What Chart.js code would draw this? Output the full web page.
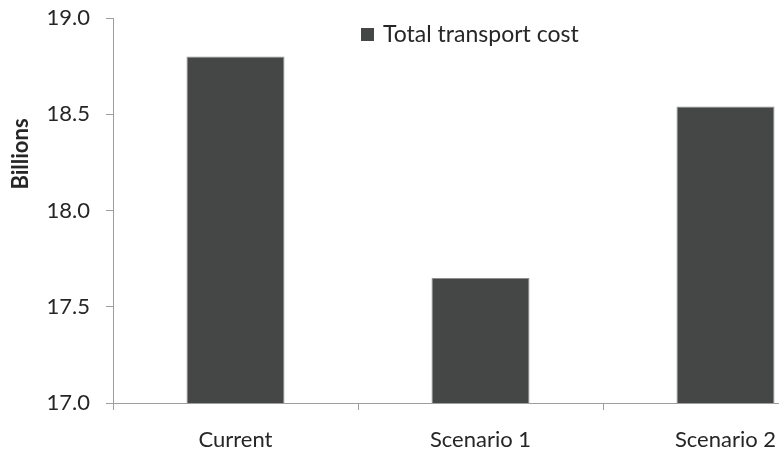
<!DOCTYPE html>
<html>
<head>
<meta charset="utf-8">
<script src="https://cdn.jsdelivr.net/npm/chart.js@4"></script>
<style>
    html, body { margin: 0; padding: 0; background: #ffffff; overflow: hidden; }
    #wrap { width: 779px; height: 457px; overflow: hidden; }
</style>
</head>
<body>
<div id="wrap">
    <canvas id="myChart" width="860" height="457"></canvas>
</div>
<script>
// data
const categories = ['Current', 'Scenario 1', 'Scenario 2'];
const totalCost = [18.80, 17.65, 18.54];
const seriesLabel = 'Total transport cost';
const axisTitle = 'Billions';
const yTicks = [17.0, 17.5, 18.0, 18.5, 19.0];

const textColor = '#262626';
const axisColor = '#9e9e9e';
const barColor = '#454747';

// legend sits inside the plot area, so draw it by hand
const innerLegend = {
    id: 'innerLegend',
    afterDraw(chart) {
        const c = chart.ctx;
        const ds = chart.data.datasets[0];
        c.save();
        c.fillStyle = ds.backgroundColor;
        c.fillRect(361, 28, 13, 13);
        c.fillStyle = textColor;
        c.font = '23px Lato';
        c.textBaseline = 'middle';
        c.textAlign = 'left';
        c.fillText(ds.label, 383, 35);
        c.restore();
    }
};

// y title is not centred on the axis in the original
const yTitle = {
    id: 'yTitle',
    afterDraw(chart) {
        const c = chart.ctx;
        c.save();
        c.translate(21, 154);
        c.rotate(-Math.PI / 2);
        c.fillStyle = textColor;
        c.font = 'bold 22px Lato';
        c.textAlign = 'center';
        c.textBaseline = 'middle';
        c.fillText(axisTitle, 0, 0);
        c.restore();
    }
};

document.addEventListener('DOMContentLoaded', function() {
    const ctx = document.getElementById('myChart').getContext('2d');
    const myChart = new Chart(ctx, {
        type: 'bar',
        data: {
            labels: categories,
            datasets: [{
                label: seriesLabel,
                data: totalCost,
                backgroundColor: barColor,
                borderColor: '#8e8e8e',
                borderWidth: 1,
                barPercentage: 0.4,
                categoryPercentage: 1.0
            }]
        },
        options: {
            responsive: false,
            animation: false,
            layout: {
                padding: { top: 18, right: 12, bottom: 0, left: 0 }
            },
            plugins: {
                legend: { display: false },
                tooltip: { enabled: false }
            },
            scales: {
                x: {
                    grid: {
                        drawOnChartArea: false,
                        drawTicks: true,
                        tickLength: 7,
                        color: axisColor,
                        offset: true
                    },
                    border: { color: axisColor, width: 1 },
                    ticks: {
                        color: textColor,
                        font: { family: 'Lato', size: 22 },
                        padding: 17,
                        maxRotation: 0
                    },
                    afterFit: function(scale) { scale.height = 54; }
                },
                y: {
                    min: yTicks[0],
                    max: yTicks[yTicks.length - 1],
                    grid: {
                        drawOnChartArea: false,
                        drawTicks: true,
                        tickLength: 7,
                        color: axisColor
                    },
                    border: { color: axisColor, width: 1 },
                    ticks: {
                        stepSize: 0.5,
                        color: textColor,
                        font: { family: 'Lato', size: 22 },
                        padding: 16,
                        callback: function(v) { return Number(v).toFixed(1); }
                    },
                    afterFit: function(scale) {
                        scale.width = 113;
                        scale.paddingTop = 0;
                        scale.paddingBottom = 0;
                    }
                }
            }
        },
        plugins: [innerLegend, yTitle]
    });
});
</script>
</body>
</html>
